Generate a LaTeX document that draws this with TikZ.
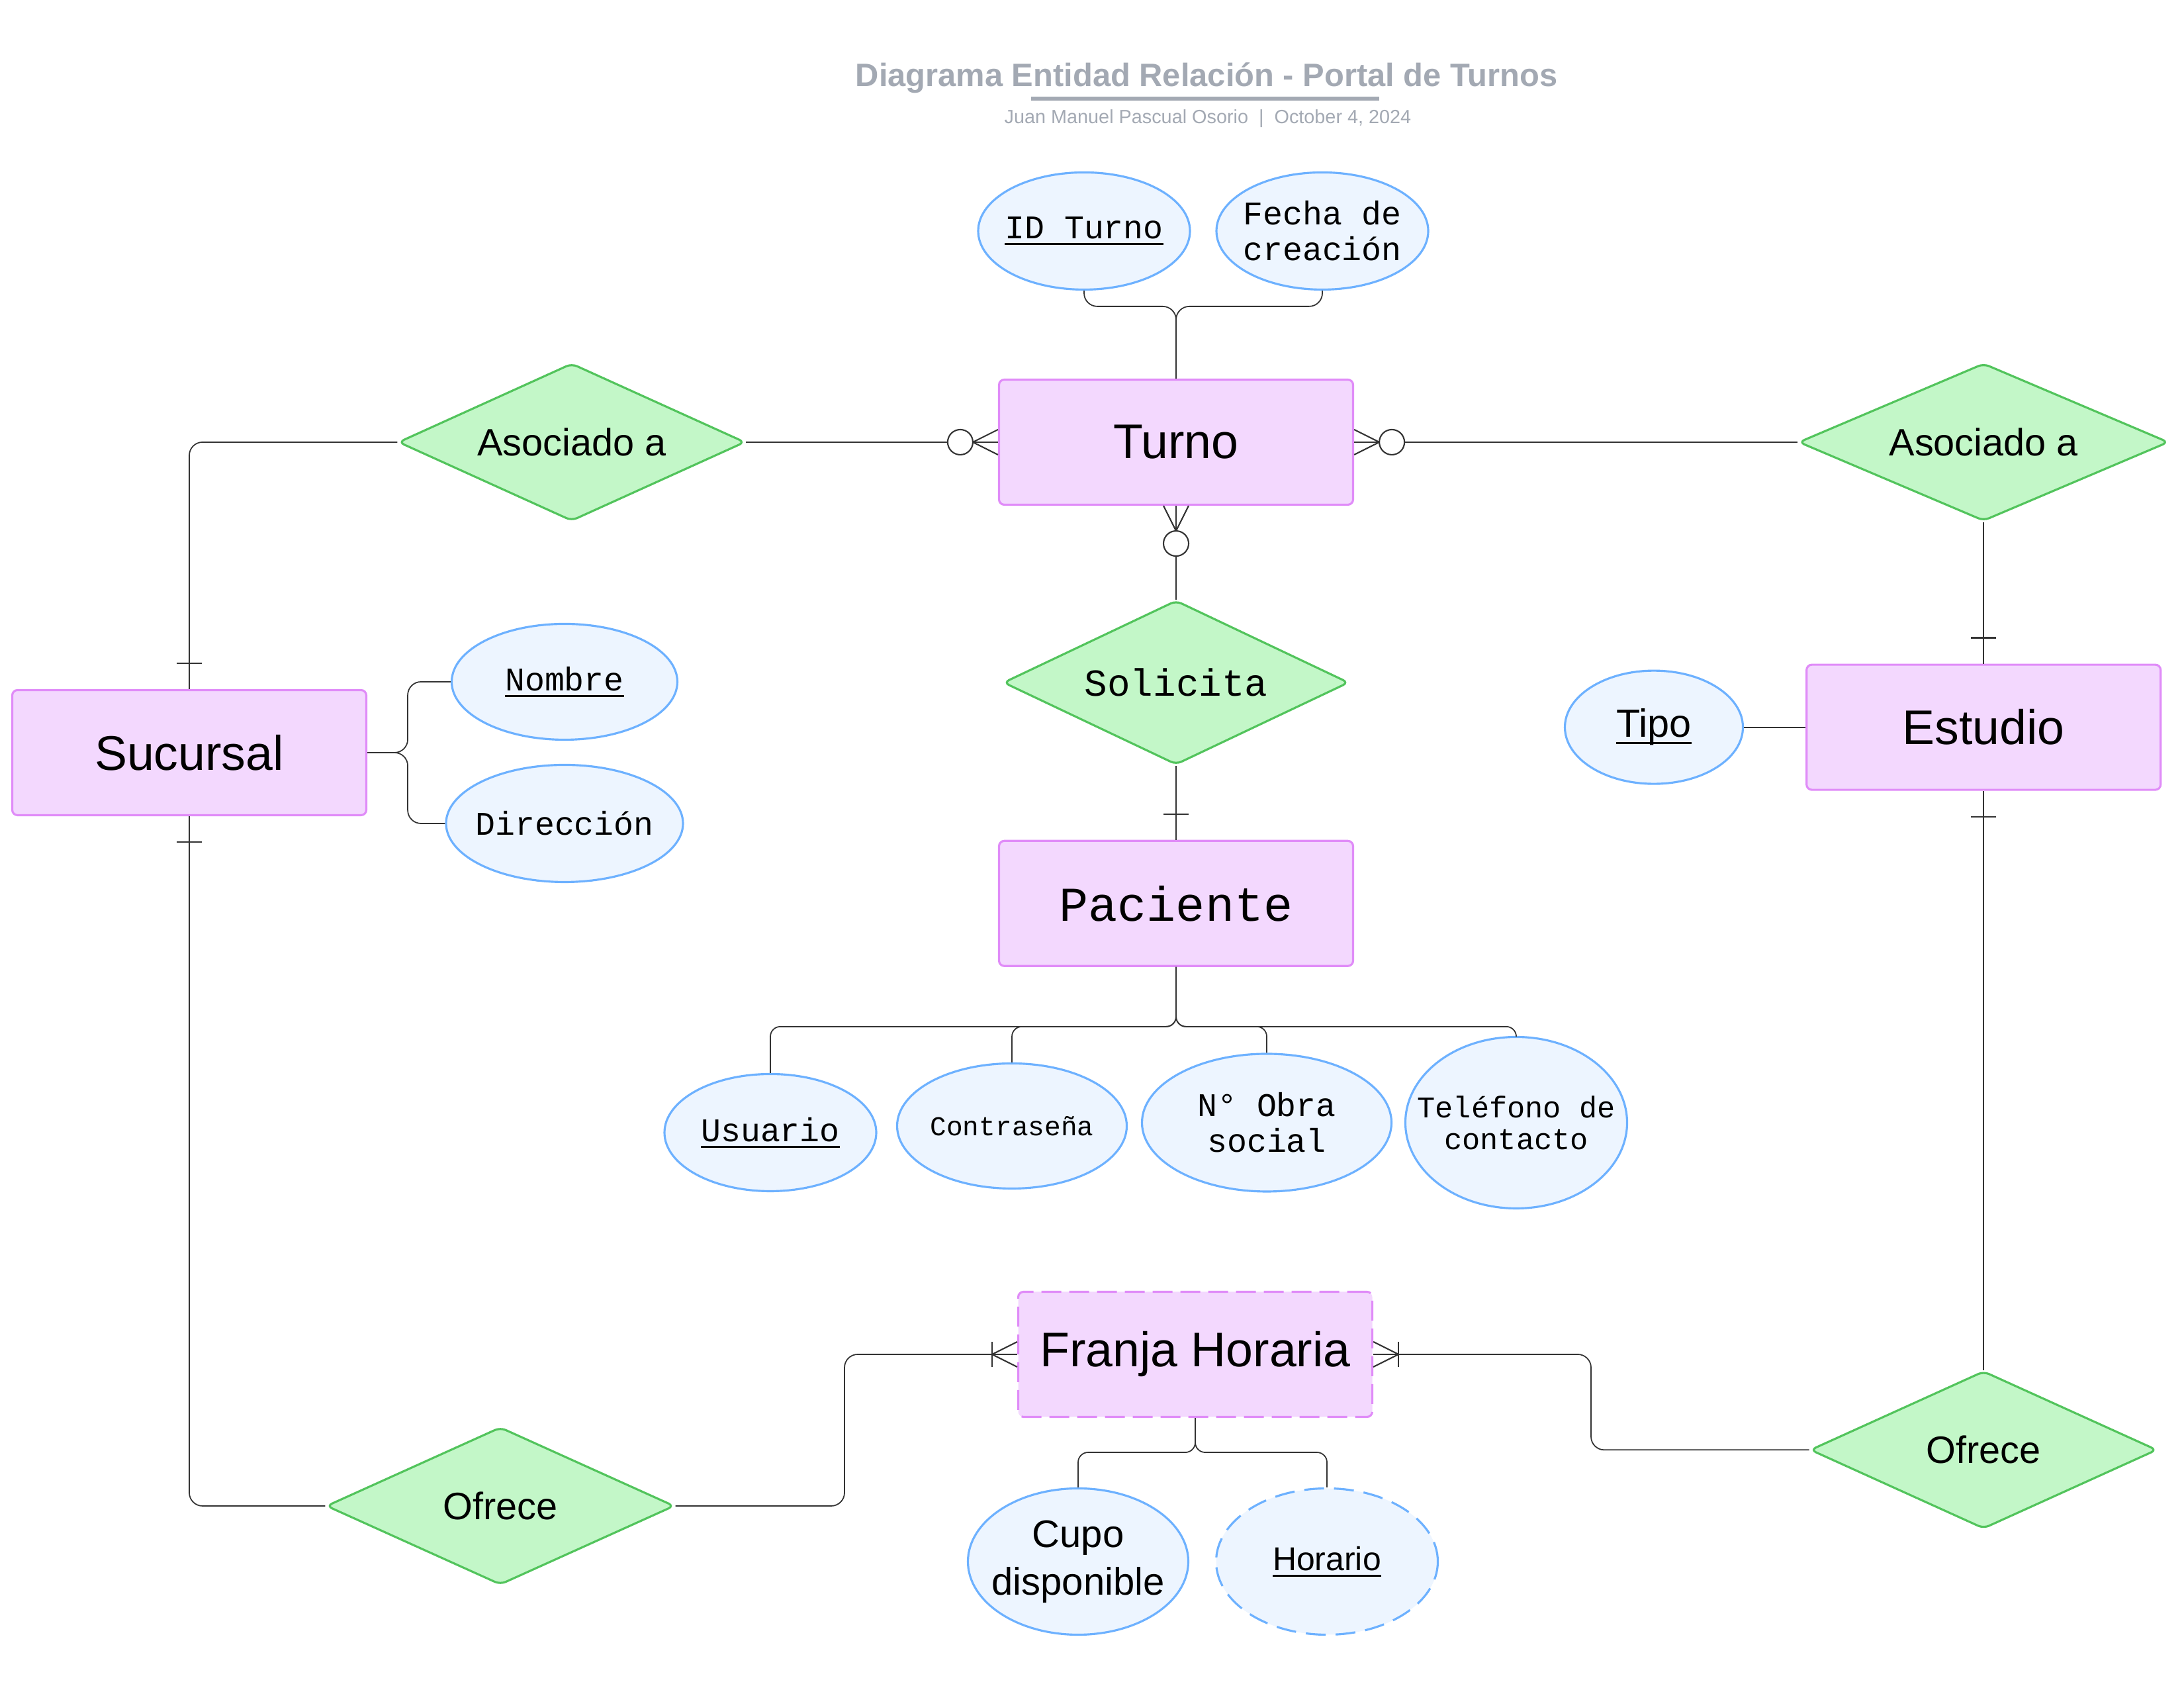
\documentclass[tikz,border=0pt]{standalone}
\usepackage{fontspec}
\setmainfont{Liberation Sans}
\newfontfamily\monofont{Liberation Mono}
\usetikzlibrary{shapes.geometric,positioning}

\definecolor{entfill}{HTML}{F3D8FE}
\definecolor{entdraw}{HTML}{E08CF8}
\definecolor{relfill}{HTML}{C3F7C8}
\definecolor{reldraw}{HTML}{52C45C}
\definecolor{attrfill}{HTML}{EDF5FF}
\definecolor{attrdraw}{HTML}{6DB1FF}
\definecolor{linegray}{HTML}{333333}
\definecolor{titlegray}{HTML}{A3A9B3}

% clave primaria subrayada
\newcommand{\pkey}[1]{\setbox0=\hbox{#1}\rlap{\rule[-2.8pt]{\wd0}{0.9pt}}\box0}

\tikzset{
  entity/.style={rectangle, rounded corners=0.08cm, draw=entdraw, fill=entfill, line width=0.9pt,
    minimum width=5.35cm, minimum height=1.89cm, inner sep=0pt, font=\fontsize{20.9}{25}\selectfont},
  relation/.style={diamond, aspect=2.2, draw=reldraw, fill=relfill, line width=0.9pt, inner sep=0pt,
    rounded corners=2.5pt, minimum width=5.24cm, minimum height=2.38cm, font=\fontsize{16.4}{20}\selectfont},
  attr/.style={ellipse, draw=attrdraw, fill=attrfill, line width=0.9pt, inner xsep=-12pt, inner ysep=0pt,
    align=center, font=\monofont\fontsize{14.2}{15.4}\selectfont},
  conn/.style={draw=linegray, line width=0.5pt, rounded corners=0.2cm},
  cardmark/.style={draw=linegray, line width=0.6pt},
  zeromany/.pic={
    \draw[cardmark] (0,0.19) -- (0.38,0) -- (0,-0.19);
    \draw[cardmark, fill=white] (0.57,0) circle (0.19);
  },
  onemany/.pic={
    \draw[cardmark] (0,0.19) -- (0.38,0) -- (0,-0.19);
    \draw[cardmark] (0.38,0.19) -- (0.38,-0.19);
  },
  onlyone/.pic={
    \draw[cardmark] (0.39,0.19) -- (0.39,-0.19);
  },
}

\begin{document}
\begin{tikzpicture}[node distance=1.2cm]
  \useasboundingbox (0,0) rectangle (33,25.5);

  % titulo
  \node[text=titlegray, font=\bfseries\fontsize{13.9}{17}\selectfont] (title) at (18.23,24.32)
    {Diagrama Entidad Relación - Portal de Turnos};
  \draw[titlegray, line width=1.5pt] (15.58,24.01) -- (20.84,24.01);
  \node[text=titlegray, font=\fontsize{8.2}{10}\selectfont] (subtitle) at (18.25,23.71)
    {Juan Manuel Pascual Osorio \ | \ October 4, 2024};

  % entidades y relaciones
  \node[entity] (turno) at (17.77,18.82) {Turno};
  \node[relation, aspect=2.1, minimum width=5.22cm, minimum height=2.48cm,
    font=\monofont\fontsize{16.4}{20}\selectfont, below=1.415cm of turno] (solicita) {Solicita};
  \node[entity, font=\monofont\fontsize{20.9}{25}\selectfont, below=1.12cm of solicita] (paciente) {Paciente};

  \node[relation, left=3.805cm of turno] (asocL) {Asociado a};
  \node[relation, aspect=2.35, minimum width=5.59cm, right=6.7cm of turno] (asocR) {Asociado a};

  \node[entity, below=2.14cm of asocR] (estudio) {Estudio};
  \node[relation, below=8.75cm of estudio] (ofreceR) {Ofrece};
  \node[attr, minimum width=2.69cm, minimum height=1.71cm, font=\fontsize{16.9}{20}\selectfont,
    left=0.93cm of estudio] (tipo) {\pkey{Tipo}};

  \node[entity] (sucursal) at (2.86,14.13) {Sucursal};
  \node[relation, minimum width=5.26cm] (ofreceL) at (7.56,2.75) {Ofrece};
  \node[entity, dash pattern=on 0.3cm off 0.12cm] (franja) at (18.06,5.04) {Franja Horaria};

  % atributos
  \node[attr, minimum width=3.2cm, minimum height=1.77cm] (idturno) at (16.38,22.01) {\pkey{ID Turno}};
  \node[attr, minimum width=3.2cm, minimum height=1.77cm] (fecha) at (19.98,22.01) {Fecha de\\creación};

  \node[attr, minimum width=3.41cm, minimum height=1.75cm] (nombre) at (8.53,15.2) {\pkey{Nombre}};
  \node[attr, minimum width=3.58cm, minimum height=1.77cm] (direccion) at (8.53,13.06) {Dirección};

  \node[attr, minimum width=3.2cm, minimum height=1.77cm] (usuario) at (11.64,8.39) {\pkey{Usuario}};
  \node[attr, minimum width=3.47cm, minimum height=1.89cm, font=\monofont\fontsize{11.7}{14}\selectfont]
    (contrasena) at (15.29,8.49) {Contraseña};
  \node[attr, minimum width=3.77cm, minimum height=2.08cm] (obra) at (19.14,8.54) {N° Obra\\social};
  \node[attr, minimum width=3.35cm, minimum height=2.59cm, font=\monofont\fontsize{12.9}{13.7}\selectfont]
    (telefono) at (22.91,8.54) {Teléfono de\\contacto};

  \node[attr, minimum width=3.33cm, minimum height=2.21cm, font=\fontsize{16.5}{20.4}\selectfont]
    (cupo) at (16.29,1.91) {Cupo\\disponible};
  \node[attr, minimum width=3.35cm, minimum height=2.21cm, dash pattern=on 0.3cm off 0.15cm,
    font=\fontsize{14.2}{17}\selectfont] (horario) at (20.05,1.91) {\pkey{Horario}};

  % puntos de union
  \coordinate[above=1.09cm of turno.north] (jT);
  \coordinate[below=0.9cm of paciente.south] (jP);
  \coordinate[right=0.61cm of sucursal.east] (jS);
  \coordinate[below=0.52cm of franja.south] (jF);
  \coordinate (midL) at (12.76,3.9);
  \coordinate (midR) at (24.04,4.3);

  % relaciones
  \draw[conn] (turno.west) -- (asocL.east);
  \draw[conn] (asocL.west) -| (sucursal.north);
  \draw[conn] (turno.east) -- (asocR.west);
  \draw[conn] (asocR.south) -- (estudio.north);
  \draw[conn] (turno.south) -- (solicita.north);
  \draw[conn] (solicita.south) -- (paciente.north);
  \draw[conn] (sucursal.south) |- (ofreceL.west);
  \draw[conn] (ofreceL.east) -| (midL) |- (franja.west);
  \draw[conn] (franja.east) -| (midR) |- (ofreceR.west);
  \draw[conn] (ofreceR.north) -- (estudio.south);

  % atributos
  \draw[conn] (idturno.south) |- (jT) -- (turno.north);
  \draw[conn] (fecha.south) |- (jT) -- (turno.north);
  \draw[conn] (sucursal.east) -- (jS) |- (nombre.west);
  \draw[conn] (sucursal.east) -- (jS) |- (direccion.west);
  \draw[conn] (tipo.east) -- (estudio.west);
  \draw[conn, rounded corners=0.15cm] (paciente.south) -- (jP) -| (usuario.north);
  \draw[conn, rounded corners=0.15cm] (paciente.south) -- (jP) -| (contrasena.north);
  \draw[conn, rounded corners=0.15cm] (paciente.south) -- (jP) -| (obra.north);
  \draw[conn, rounded corners=0.15cm] (paciente.south) -- (jP) -| (telefono.north);
  \draw[conn, rounded corners=0.15cm] (franja.south) -- (jF) -| (cupo.north);
  \draw[conn, rounded corners=0.15cm] (franja.south) -- (jF) -| (horario.north);

  % cardinalidades
  \path (turno.west) pic[rotate=180] {zeromany};
  \path (turno.east) pic {zeromany};
  \path (turno.south) pic[rotate=-90] {zeromany};
  \path (paciente.north) pic[rotate=90] {onlyone};
  \path (sucursal.north) pic[rotate=90] {onlyone};
  \path (sucursal.south) pic[rotate=-90] {onlyone};
  \path (estudio.north) pic[rotate=90] {onlyone};
  \path (estudio.south) pic[rotate=-90] {onlyone};
  \path (franja.west) pic[rotate=180] {onemany};
  \path (franja.east) pic {onemany};
\end{tikzpicture}
\end{document}
